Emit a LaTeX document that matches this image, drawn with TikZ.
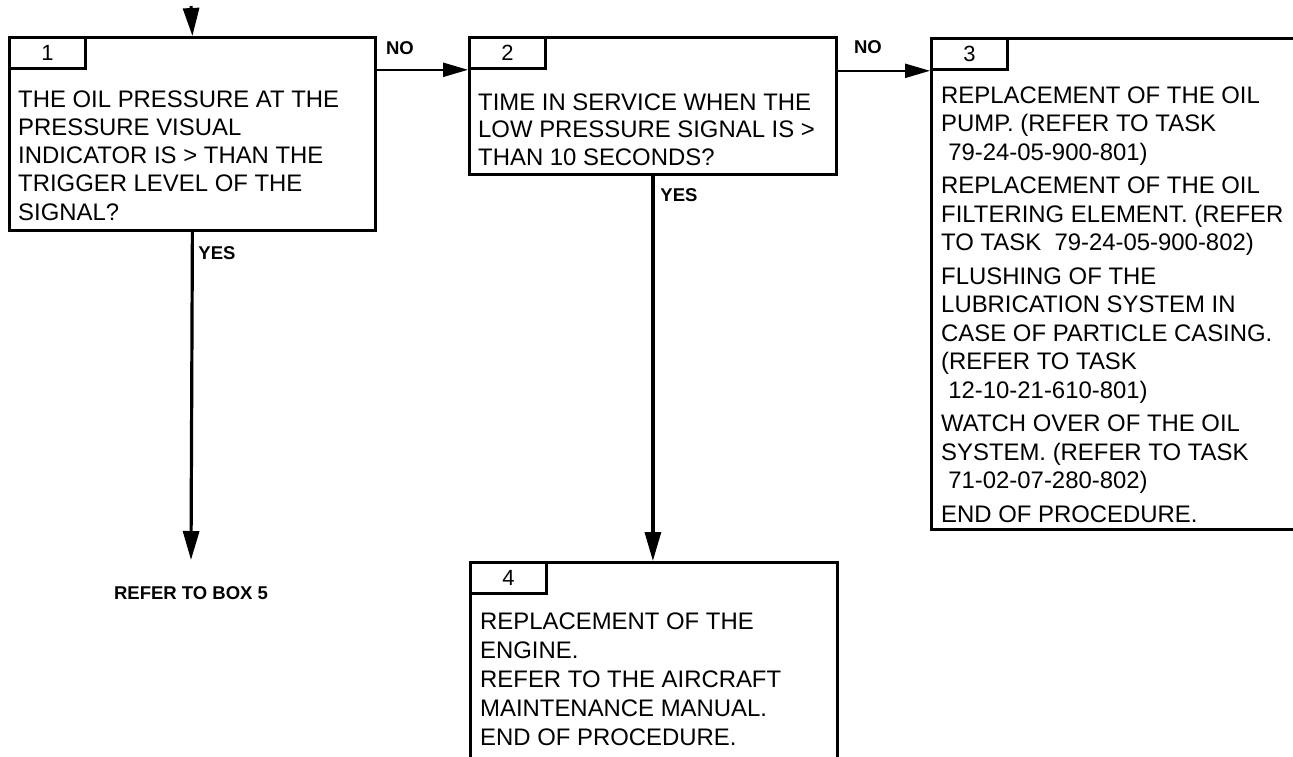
\documentclass[tikz,border=0pt]{standalone}
\usepackage{fontspec}
\setmainfont{Liberation Sans}
\usetikzlibrary{arrows.meta}
\tikzset{
  box/.style={draw, line width=2.8pt, anchor=north west, inner sep=0pt},
  tabbox/.style={draw, line width=2.8pt, anchor=north west, inner sep=0pt,
    minimum width=76pt, minimum height=31pt, font=\fontsize{22}{26}\selectfont},
  txt/.style={anchor=base west, inner sep=0pt},
  lbl/.style={inner sep=0pt, font=\fontsize{18.5}{22}\selectfont\bfseries},
  harrow/.style={line width=2.2pt, -{Triangle[length=25pt,width=14pt]}},
  varrow/.style={line width=3.2pt, -{Triangle[length=29pt,width=16pt]}},
}
\newcommand{\bodyfont}[1]{\fontsize{23.9}{#1}\selectfont}
\begin{document}
\begin{tikzpicture}[x=1pt,y=-1pt]
\clip (0,0) rectangle (1293,756);
\fill[white] (0,0) rectangle (1293,756);

% boxes
\node[box, minimum width=366pt, minimum height=193pt] (b1) at (8,36) {};
\node[box, minimum width=367pt, minimum height=137pt] (b2) at (468,36) {};
\node[box, minimum width=390pt, minimum height=491pt] (b3) at (930,37) {};
\node[box, minimum width=367pt, minimum height=260pt] (b4) at (469,561) {};

% number tabs
\node[tabbox] (t1) at (b1.north west) {1};
\node[tabbox] (t2) at (b2.north west) {2};
\node[tabbox] (t3) at (b3.north west) {3};
\node[tabbox] (t4) at (b4.north west) {4};

% texts
\node[txt] (x1) at (18,107) {\parbox[t]{360pt}{\bodyfont{28.3}\raggedright
THE OIL PRESSURE AT THE\\
PRESSURE VISUAL\\
INDICATOR IS > THAN THE\\
TRIGGER LEVEL OF THE\\
SIGNAL?}};

\node[txt] (x2) at (478,110) {\parbox[t]{360pt}{\bodyfont{27.5}\raggedright
TIME IN SERVICE WHEN THE\\
LOW PRESSURE SIGNAL IS >\\
THAN 10 SECONDS?}};

\node[txt] (x3) at (941,103) {\parbox[t]{400pt}{\bodyfont{28.5}\raggedright
REPLACEMENT OF THE OIL\\
PUMP. (REFER TO TASK\\
\hspace*{0.3em}79-24-05-900-801)\\[5pt]
REPLACEMENT OF THE OIL\\
FILTERING ELEMENT. (REFER\\
TO TASK \ 79-24-05-900-802)\\[5pt]
FLUSHING OF THE\\
LUBRICATION SYSTEM IN\\
CASE OF PARTICLE CASING.\\
(REFER TO TASK\\
\hspace*{0.3em}12-10-21-610-801)\\[5pt]
WATCH OVER OF THE OIL\\
SYSTEM. (REFER TO TASK\\
\hspace*{0.3em}71-02-07-280-802)\\[5pt]
END OF PROCEDURE.}};

\node[txt] (x4) at (480,629) {\parbox[t]{360pt}{\bodyfont{29}\raggedright
REPLACEMENT OF THE\\
ENGINE.\\
REFER TO THE AIRCRAFT\\
MAINTENANCE MANUAL.\\
END OF PROCEDURE.}};

% end label
\node[lbl] (r5) at (191,593) {REFER TO BOX 5};

% connectors
\coordinate (start) at (191,6);
\coordinate (e1) at (191,560);
\draw[line width=3pt, -{Triangle[length=28pt,width=16pt]}] (start) -- (b1.north);
\draw[harrow] (t2.south west -| b1.east) -- (t2.south west);
\draw[harrow] (t3.south west -| b2.east) -- (t3.south west);
\draw[varrow] (b1.south) -- (e1);
\draw[varrow] (b2.south) -- (b2.south |- b4.north);

% branch labels
\node[lbl] (no1) at (400,48) {NO};
\node[lbl] (no2) at (868,47) {NO};
\node[lbl] (yes1) at (217,253) {YES};
\node[lbl] (yes2) at (679,195) {YES};
\end{tikzpicture}
\end{document}
